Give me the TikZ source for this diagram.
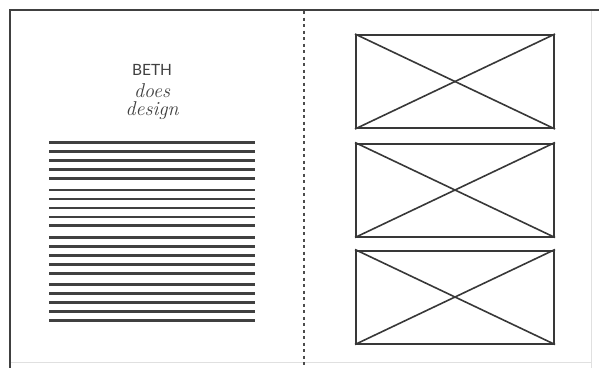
\documentclass[tikz,border=0pt]{standalone}
\usepackage{fontspec}
\newfontfamily\bethsans{Lato}
\begin{document}
\begin{tikzpicture}[x=1pt,y=-1pt,
  textline/.style={line width=2.6pt,color=black!75},
  imgbox/.style={draw=black!78,line width=2pt,minimum width=198pt,minimum height=93pt,inner sep=0pt},
  cross/.style={draw=black!78,line width=1.6pt},
  frame/.style={draw=black!75,line width=2pt},
  faint/.style={draw=black!12,line width=1pt},
  divider/.style={draw=black!70,line width=1.3pt,dash pattern=on 3pt off 3.5pt},
  title/.style={anchor=base,inner sep=0pt,text=black!75}]
\useasboundingbox (0,0) rectangle (599,368);
\fill[white] (0,0) rectangle (599,368);
% frame
\draw[faint] (591,9) -- (591,368);
\draw[faint] (9,362) -- (591,362);
\draw[frame] (9,9.5) -- (599,9.5);
\draw[frame] (9.5,9) -- (9.5,368);
% divider
\coordinate (dt) at (304,11);
\coordinate (db) at (304,368);
\draw[divider] (dt) -- (db);
% title
\node[title,font=\bethsans\fontsize{15.5}{16}\selectfont] (beth) at (152,75) {BETH};
\node[title,align=center,font=\itshape\fontsize{20}{18}\selectfont] (tagline) at (152,115.5) {does\\design};
% text lines
\foreach \y in {142.3,151.3,160.3,169.3,178.5,
                190,199,208,217,225.7,
                237.7,246.7,255.5,264.3,273.3,
                284.3,293.3,302.3,311.3,320.7}
  \draw[textline] (49,\y) -- (255,\y);
% image placeholders
\foreach \n/\y in {1/81.5,2/190,3/297}{
  \node[imgbox] (b\n) at (455,\y) {};
  \draw[cross] (b\n.north west) -- (b\n.south east);
  \draw[cross] (b\n.south west) -- (b\n.north east);
}
\end{tikzpicture}
\end{document}
